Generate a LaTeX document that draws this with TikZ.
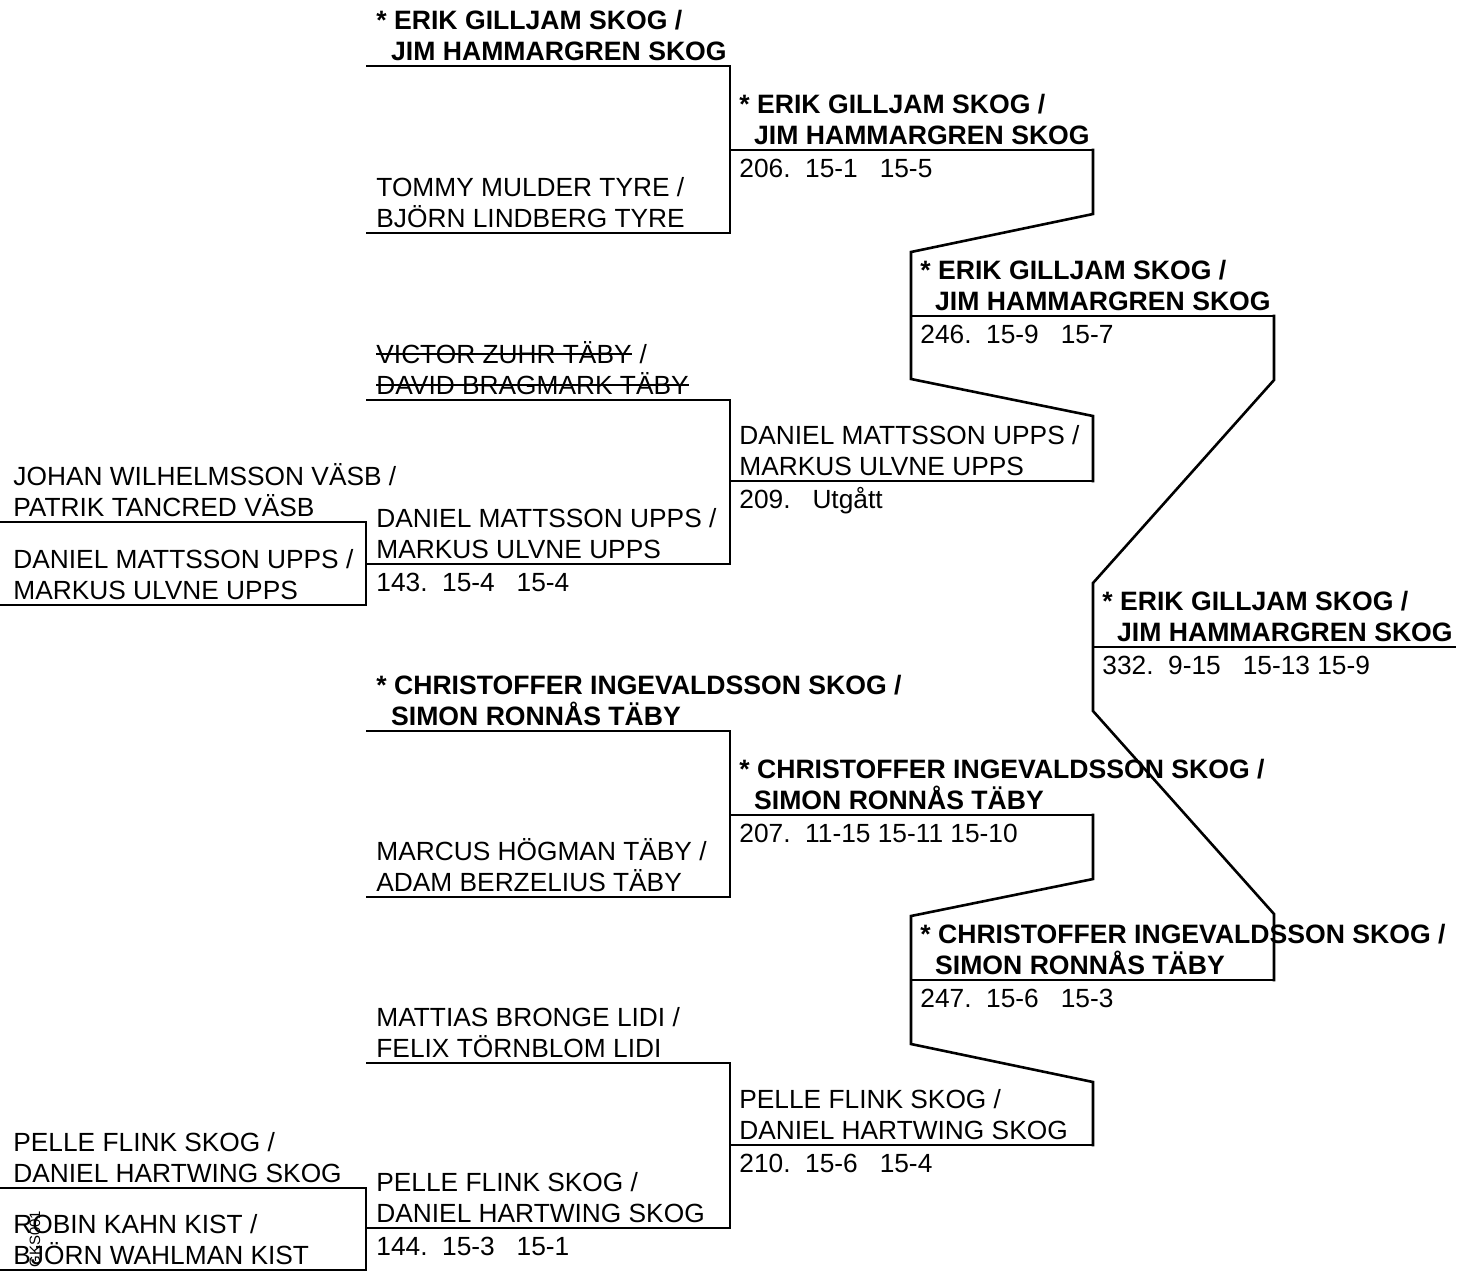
\documentclass[tikz,border=0pt]{standalone}
\usepackage{fontspec}
\setmainfont{Liberation Sans}
\newcommand{\bfx}{\fontsize{13.3}{15.5}\selectfont\bfseries}
% #1 name, #2 line x0, #3 line x1, #4 line y, #5 text x, #6 line 1, #7 line 2, #8 score
\newcommand{\bkentry}[8]{%
  \coordinate (#1s) at (#2,#4);
  \coordinate (#1e) at (#3,#4);
  \draw[br] (#1s) -- (#1e);
  \node[nm, anchor=base west] (#1t) at (#5,{#4-37}) {#6};
  \node[nm, anchor=base west] (#1u) at (#5,{#4-6}) {#7};
  \if\relax\detokenize{#8}\relax\else
  \node[nm, anchor=base west] (#1v) at (#5,{#4+27}) {#8};
  \fi
}
\begin{document}
\begin{tikzpicture}[x=0.5pt,y=-0.5pt,
  br/.style={line width=1.3pt, line join=miter, line cap=rect},
  strike/.style={line width=0.9pt},
  nm/.style={inner sep=0pt, font=\fontsize{13.15}{15.5}\selectfont}]
\useasboundingbox (0,0) rectangle (1470,1270);

% column A
\bkentry{a1}{0}{366}{522}{13}{JOHAN WILHELMSSON VÄSB /}{PATRIK TANCRED VÄSB}{}
\bkentry{a2}{0}{366}{605}{13}{DANIEL MATTSSON UPPS /}{MARKUS ULVNE UPPS}{}
\bkentry{a3}{0}{366}{1188}{13}{PELLE FLINK SKOG /}{DANIEL HARTWING SKOG}{}
\bkentry{a4}{0}{366}{1270}{13}{ROBIN KAHN KIST /}{BJÖRN WAHLMAN KIST}{}
\draw[br] (a1e) -- (a2e);
\draw[br] (a3e) -- (a4e);

% column B
\bkentry{b1}{367}{730}{66}{376}{\bfx * ERIK GILLJAM SKOG /}{\bfx\ \ JIM HAMMARGREN SKOG}{}
\bkentry{b2}{367}{730}{233}{376}{TOMMY MULDER TYRE /}{BJÖRN LINDBERG TYRE}{}
\bkentry{b3}{367}{730}{400}{376}{VICTOR ZUHR TÄBY}{DAVID BRAGMARK TÄBY}{}
\node[nm, anchor=base west] (b3w) at (b3t.base east) {\ /};
\draw[strike] ([yshift=4.6pt]b3t.base west) -- ([yshift=4.6pt]b3t.base east);
\draw[strike] ([yshift=4.6pt]b3u.base west) -- ([yshift=4.6pt]b3u.base east);
\bkentry{b4}{367}{730}{564}{376}{DANIEL MATTSSON UPPS /}{MARKUS ULVNE UPPS}{143.\ \ 15-4\ \ \ 15-4}
\bkentry{b5}{367}{730}{731}{376}{\bfx * CHRISTOFFER INGEVALDSSON SKOG /}{\bfx\ \ SIMON RONNÅS TÄBY}{}
\bkentry{b6}{367}{730}{897}{376}{MARCUS HÖGMAN TÄBY /}{ADAM BERZELIUS TÄBY}{}
\bkentry{b7}{367}{730}{1063}{376}{MATTIAS BRONGE LIDI /}{FELIX TÖRNBLOM LIDI}{}
\bkentry{b8}{367}{730}{1228}{376}{PELLE FLINK SKOG /}{DANIEL HARTWING SKOG}{144.\ \ 15-3\ \ \ 15-1}
\draw[br] (b1e) -- (b2e);
\draw[br] (b3e) -- (b4e);
\draw[br] (b5e) -- (b6e);
\draw[br] (b7e) -- (b8e);

% column C
\bkentry{c1}{730}{1093}{150}{739}{\bfx * ERIK GILLJAM SKOG /}{\bfx\ \ JIM HAMMARGREN SKOG}{206.\ \ 15-1\ \ \ 15-5}
\bkentry{c2}{730}{1093}{481}{739}{DANIEL MATTSSON UPPS /}{MARKUS ULVNE UPPS}{209.\ \ \ Utgått}
\bkentry{c3}{730}{1093}{815}{739}{\bfx * CHRISTOFFER INGEVALDSSON SKOG /}{\bfx\ \ SIMON RONNÅS TÄBY}{207.\ \ 11-15 15-11 15-10}
\bkentry{c4}{730}{1093}{1145}{739}{PELLE FLINK SKOG /}{DANIEL HARTWING SKOG}{210.\ \ 15-6\ \ \ 15-4}
\coordinate (k1) at (1093,214); \coordinate (k2) at (911,252);
\coordinate (k3) at (911,379);  \coordinate (k4) at (1093,416);
\draw[br] (c1e) -- (k1) -- (k2) -- (k3) -- (k4) -- (c2e);
\coordinate (k5) at (1093,879); \coordinate (k6) at (911,916);
\coordinate (k7) at (911,1044); \coordinate (k8) at (1093,1082);
\draw[br] (c3e) -- (k5) -- (k6) -- (k7) -- (k8) -- (c4e);

% column D
\bkentry{d1}{911}{1274}{316}{920}{\bfx * ERIK GILLJAM SKOG /}{\bfx\ \ JIM HAMMARGREN SKOG}{246.\ \ 15-9\ \ \ 15-7}
\bkentry{d2}{911}{1274}{980}{920}{\bfx * CHRISTOFFER INGEVALDSSON SKOG /}{\bfx\ \ SIMON RONNÅS TÄBY}{247.\ \ 15-6\ \ \ 15-3}
\coordinate (m1) at (1274,380); \coordinate (m2) at (1093,583);
\coordinate (m3) at (1093,711); \coordinate (m4) at (1274,914);
\draw[br] (d1e) -- (m1) -- (m2) -- (m3) -- (m4) -- (d2e);

% column E
\bkentry{e1}{1093}{1455}{647}{1102}{\bfx * ERIK GILLJAM SKOG /}{\bfx\ \ JIM HAMMARGREN SKOG}{332.\ \ 9-15\ \ \ 15-13 15-9}

% watermark
\node[nm, font=\fontsize{7.5}{8}\selectfont, rotate=90, anchor=base west] (wm) at (40,1268) {GKS001};
\end{tikzpicture}
\end{document}
